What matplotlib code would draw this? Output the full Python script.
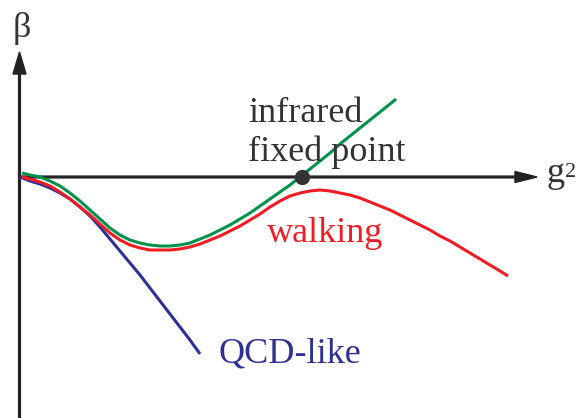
import matplotlib.pyplot as plt

# curve samples in pixel coordinates (x right, y down)
green_x = [22, 30, 40, 50, 60, 70, 80, 90, 100, 110, 120, 130, 140, 150, 160, 170, 180, 190,
           200, 210, 220, 230, 240, 250, 260, 270, 280, 290, 300, 310, 320, 330, 340, 350,
           360, 370, 380, 390, 396]
green_y = [173, 175, 177, 181, 186, 193, 201, 210, 219, 228, 235, 240, 243, 245, 246, 246, 245, 243,
           239, 235, 230, 225, 219, 213, 206, 199, 192, 185, 177, 169, 161, 153, 144, 136,
           128, 120, 112, 104, 99]

red_x = [22, 30, 40, 50, 60, 70, 80, 90, 100, 110, 120, 130, 140, 150, 160, 170, 180, 190,
         200, 210, 220, 230, 240, 250, 260, 270, 280, 290, 300, 310, 320, 330, 340, 350,
         360, 370, 380, 390, 400, 410, 420, 430, 440, 450, 460, 470, 480, 490, 500, 508]
red_y = [177, 179, 182, 186, 192, 199, 207, 215, 224, 233, 240, 245, 248, 250, 250, 250, 249, 247,
         244, 240, 236, 231, 226, 220, 214, 207, 201, 196, 193, 191, 190, 191, 193, 195,
         198, 202, 206, 210, 215, 220, 225, 230, 236, 241, 247, 253, 259, 265, 271, 276]

blue_x = [20, 30, 40, 50, 60, 70, 80, 90, 100, 110, 120, 130, 140, 150, 160, 170, 180, 190, 200]
blue_y = [177, 181, 184, 188, 193, 199, 207, 216, 227, 239, 251, 263, 275, 288, 301, 314, 327, 340, 354]

fixed_point = (302, 177)

AXIS = "#333333"
GREEN = "#00924a"
RED = "#ee1c24"
BLUE = "#2e3192"

fig = plt.figure(figsize=(5.79, 4.18), dpi=100)
ax = fig.add_axes([0, 0, 1, 1])
ax.set_xlim(0, 579)
ax.set_ylim(418, 0)
ax.axis("off")

# axes with arrow heads
ax.arrow(19.5, 418, 0, 52 - 418, width=1.8, head_width=13, head_length=22,
         length_includes_head=True, color="#222222")
ax.arrow(19.5, 177, 537 - 19.5, 0, width=1.8, head_width=11, head_length=22,
         length_includes_head=True, color="#222222")

ax.plot(blue_x, blue_y, color=BLUE, lw=2.2, solid_capstyle="butt", solid_joinstyle="round")
ax.plot(red_x, red_y, color=RED, lw=2.2, solid_capstyle="butt", solid_joinstyle="round")
ax.plot(green_x, green_y, color=GREEN, lw=2.2, solid_capstyle="butt", solid_joinstyle="round")
ax.plot(*fixed_point, "o", color=AXIS, ms=10, zorder=5)

serif = "Liberation Serif"
ax.text(13, 37, "β", fontsize=26, family=serif, color=AXIS, va="baseline")
ax.text(546, 182, "g", fontsize=26, family=serif, color=AXIS, va="baseline")
ax.text(565, 177, "2", fontsize=16, family=serif, color=AXIS, va="baseline")
ax.text(248, 122, "infrared", fontsize=26, family=serif, color=AXIS, va="baseline")
ax.text(248, 161, "fixed point", fontsize=26, family=serif, color=AXIS, va="baseline")
ax.text(267, 242, "walking", fontsize=26, family=serif, color=RED, va="baseline")
ax.text(218, 362, "QCD-like", fontsize=26, family=serif, color=BLUE, va="baseline")

plt.savefig("out.png", dpi=100)
